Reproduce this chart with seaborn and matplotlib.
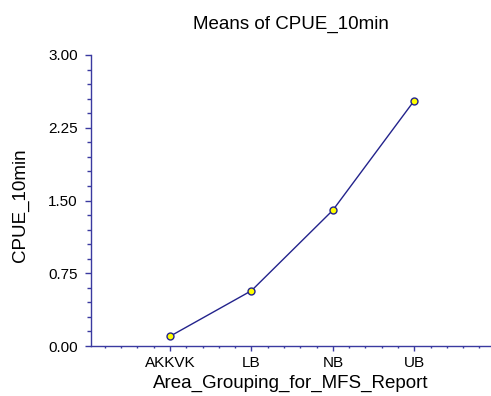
import numpy as np
import pandas as pd
import matplotlib
matplotlib.use("Agg")
import matplotlib.pyplot as plt
import seaborn as sns

areas = ["AKKVK", "LB", "NB", "UB"]
means = [0.10, 0.57, 1.40, 2.53]
yticks = [0.00, 0.75, 1.50, 2.25, 3.00]
ytick_labels = ["0.00", "0.75", "1.50", "2.25", "3.00"]

sns.set_style("white")
plt.rcParams["font.family"] = ["Liberation Sans", "DejaVu Sans"]
plt.rcParams["text.color"] = "black"
plt.rcParams["axes.labelcolor"] = "black"
plt.rcParams["xtick.labelcolor"] = "black"
plt.rcParams["ytick.labelcolor"] = "black"

navy = "#23238C"
axis_col = "#3A3AA0"

df = pd.DataFrame({"pos": np.arange(len(areas)), "mean": means})

fig = plt.figure(figsize=(4.91, 3.96), dpi=100)
ax = fig.add_axes([91 / 491, 50 / 396, 399 / 491, 291 / 396])

sns.lineplot(data=df, x="pos", y="mean", ax=ax, color=navy, linewidth=1.0,
             marker="o", markersize=5, markerfacecolor="#FFFF00",
             markeredgecolor=navy, markeredgewidth=1.0)

ax.set_xlim(-0.97, 3.93)
ax.set_ylim(0, 3.0)
ax.set_xticks(range(len(areas)))
ax.set_xticklabels(areas)
ax.set_xticks(np.arange(-0.8, 3.95, 0.2), minor=True)
ax.set_yticks(yticks)
ax.set_yticklabels(ytick_labels)
ax.set_yticks(np.arange(0, 3.001, 0.15), minor=True)

for s in ["top", "right"]:
    ax.spines[s].set_visible(False)
for s in ["left", "bottom"]:
    ax.spines[s].set_color(axis_col)
    ax.spines[s].set_linewidth(1.0)

ax.tick_params(axis="y", which="major", direction="out", length=4.5, width=1,
               color=axis_col, labelcolor="black", labelsize=11, pad=5, left=True)
ax.tick_params(axis="y", which="minor", direction="out", length=3, width=1,
               color=axis_col, left=True)
ax.tick_params(axis="x", which="major", direction="out", length=3.6, width=1,
               color=axis_col, labelcolor="black", labelsize=11, pad=3.6, bottom=True)
ax.tick_params(axis="x", which="minor", direction="out", length=1.6, width=1,
               color=axis_col, bottom=True)

ax.set_xlabel("Area_Grouping_for_MFS_Report", fontsize=13.5, color="black")
ax.xaxis.set_label_coords(0.5, -0.098)
ax.set_ylabel("CPUE_10min", fontsize=13.5, color="black")
ax.yaxis.set_label_coords(-0.155, 0.485)
ax.set_title("Means of CPUE_10min", fontsize=13.5, pad=19, color="black")

fig.savefig("out.png", dpi=100)
